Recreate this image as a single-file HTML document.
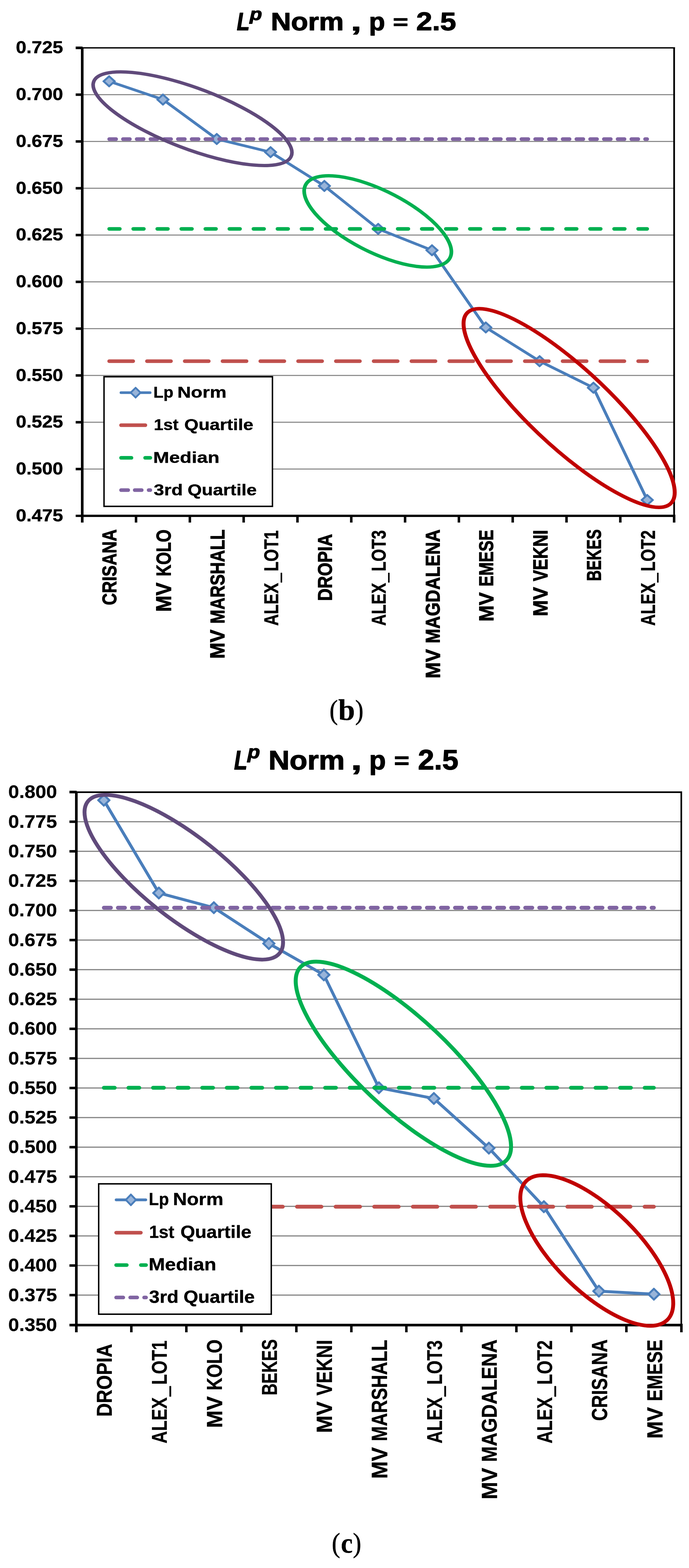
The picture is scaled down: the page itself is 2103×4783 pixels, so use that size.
<!DOCTYPE html>
<html lang="en">
<head>
<meta charset="utf-8">
<title>Lp Norm, p = 2.5</title>
<style>
html,body{margin:0;padding:0;background:#fff;}
body{width:2103px;height:4783px;overflow:hidden;font-family:"Liberation Sans",sans-serif;}
svg{display:block;}
text{white-space:pre;}
</style>
</head>
<body>
<svg width='2103' height='4783' viewBox='0 0 2103 4783'>
<rect width='2103' height='4783' fill='#fff'/>
<g id='chart-b'>
<rect x='251' y='287.15' width='1806.6' height='3.2' fill='#868686'/>
<rect x='251' y='429.9' width='1806.6' height='3.2' fill='#868686'/>
<rect x='251' y='572.65' width='1806.6' height='3.2' fill='#868686'/>
<rect x='251' y='715.4' width='1806.6' height='3.2' fill='#868686'/>
<rect x='251' y='858.15' width='1806.6' height='3.2' fill='#868686'/>
<rect x='251' y='1000.9' width='1806.6' height='3.2' fill='#868686'/>
<rect x='251' y='1143.65' width='1806.6' height='3.2' fill='#868686'/>
<rect x='251' y='1286.4' width='1806.6' height='3.2' fill='#868686'/>
<rect x='251' y='1429.15' width='1806.6' height='3.2' fill='#868686'/>
<rect x='251' y='144' width='1809.2' height='4' fill='#000'/>
<rect x='2055' y='144' width='5.2' height='1427' fill='#000'/>
<polyline transform='scale(1.11 1)' points='300.106,248 448.067,303.7 596.027,424 743.987,464.1 891.948,567.2 1039.908,698.2 1187.868,763.4 1335.829,998.9 1483.789,1101.7 1631.75,1182.7 1779.71,1525.2' fill='none' stroke='#4a7ebb' stroke-width='8.2' stroke-linejoin='round' stroke-linecap='round'/>
<path d='M314.218 248L333.118 231L352.018 248L333.118 265Z' fill='#4a7ebb' stroke='#4a7ebb' stroke-width='3.2' stroke-linejoin='round'/><path d='M320.718 248L333.118 236.8L345.518 248L333.118 259.2Z' fill='#98b4d9'/>
<path d='M478.454 303.7L497.354 286.7L516.254 303.7L497.354 320.7Z' fill='#4a7ebb' stroke='#4a7ebb' stroke-width='3.2' stroke-linejoin='round'/><path d='M484.954 303.7L497.354 292.5L509.754 303.7L497.354 314.9Z' fill='#98b4d9'/>
<path d='M642.69 424L661.59 407L680.49 424L661.59 441Z' fill='#4a7ebb' stroke='#4a7ebb' stroke-width='3.2' stroke-linejoin='round'/><path d='M649.19 424L661.59 412.8L673.99 424L661.59 435.2Z' fill='#98b4d9'/>
<path d='M806.926 464.1L825.826 447.1L844.726 464.1L825.826 481.1Z' fill='#4a7ebb' stroke='#4a7ebb' stroke-width='3.2' stroke-linejoin='round'/><path d='M813.426 464.1L825.826 452.9L838.226 464.1L825.826 475.3Z' fill='#98b4d9'/>
<path d='M971.162 567.2L990.062 550.2L1008.962 567.2L990.062 584.2Z' fill='#4a7ebb' stroke='#4a7ebb' stroke-width='3.2' stroke-linejoin='round'/><path d='M977.662 567.2L990.062 556L1002.462 567.2L990.062 578.4Z' fill='#98b4d9'/>
<path d='M1135.398 698.2L1154.298 681.2L1173.198 698.2L1154.298 715.2Z' fill='#4a7ebb' stroke='#4a7ebb' stroke-width='3.2' stroke-linejoin='round'/><path d='M1141.898 698.2L1154.298 687L1166.698 698.2L1154.298 709.4Z' fill='#98b4d9'/>
<path d='M1299.634 763.4L1318.534 746.4L1337.434 763.4L1318.534 780.4Z' fill='#4a7ebb' stroke='#4a7ebb' stroke-width='3.2' stroke-linejoin='round'/><path d='M1306.134 763.4L1318.534 752.2L1330.934 763.4L1318.534 774.6Z' fill='#98b4d9'/>
<path d='M1463.87 998.9L1482.77 981.9L1501.67 998.9L1482.77 1015.9Z' fill='#4a7ebb' stroke='#4a7ebb' stroke-width='3.2' stroke-linejoin='round'/><path d='M1470.37 998.9L1482.77 987.7L1495.17 998.9L1482.77 1010.1Z' fill='#98b4d9'/>
<path d='M1628.106 1101.7L1647.006 1084.7L1665.906 1101.7L1647.006 1118.7Z' fill='#4a7ebb' stroke='#4a7ebb' stroke-width='3.2' stroke-linejoin='round'/><path d='M1634.606 1101.7L1647.006 1090.5L1659.406 1101.7L1647.006 1112.9Z' fill='#98b4d9'/>
<path d='M1792.342 1182.7L1811.242 1165.7L1830.142 1182.7L1811.242 1199.7Z' fill='#4a7ebb' stroke='#4a7ebb' stroke-width='3.2' stroke-linejoin='round'/><path d='M1798.842 1182.7L1811.242 1171.5L1823.642 1182.7L1811.242 1193.9Z' fill='#98b4d9'/>
<path d='M1956.578 1525.2L1975.478 1508.2L1994.378 1525.2L1975.478 1542.2Z' fill='#4a7ebb' stroke='#4a7ebb' stroke-width='3.2' stroke-linejoin='round'/><path d='M1963.078 1525.2L1975.478 1514L1987.878 1525.2L1975.478 1536.4Z' fill='#98b4d9'/>
<path d='M333.118 1101.7H1975.478' fill='none' stroke='#c0504d' stroke-width='11' stroke-linecap='round' stroke-dasharray='73.5 41.83'/>
<path d='M333.118 698.2H1975.478' fill='none' stroke='#00b050' stroke-width='11' stroke-linecap='round' stroke-dasharray='32.7 40.69'/>
<path d='M333.118 424.3H1975.478' fill='none' stroke='#8064a2' stroke-width='11' stroke-linecap='round' stroke-dasharray='21.5 20.44'/>
<rect x='247' y='146' width='8' height='1448' fill='#000'/>
<rect x='231' y='1570' width='1829.2' height='7' fill='#000'/>
<rect x='231' y='142' width='21' height='8' fill='#000'/>
<rect x='231' y='284.95' width='17' height='7.6' fill='#000'/>
<rect x='231' y='427.7' width='17' height='7.6' fill='#000'/>
<rect x='231' y='570.45' width='17' height='7.6' fill='#000'/>
<rect x='231' y='713.2' width='17' height='7.6' fill='#000'/>
<rect x='231' y='855.95' width='17' height='7.6' fill='#000'/>
<rect x='231' y='998.7' width='17' height='7.6' fill='#000'/>
<rect x='231' y='1141.45' width='17' height='7.6' fill='#000'/>
<rect x='231' y='1284.2' width='17' height='7.6' fill='#000'/>
<rect x='231' y='1426.95' width='17' height='7.6' fill='#000'/>
<rect x='411.436' y='1570' width='7.6' height='24' fill='#000'/>
<rect x='575.673' y='1570' width='7.6' height='24' fill='#000'/>
<rect x='739.909' y='1570' width='7.6' height='24' fill='#000'/>
<rect x='904.145' y='1570' width='7.6' height='24' fill='#000'/>
<rect x='1068.382' y='1570' width='7.6' height='24' fill='#000'/>
<rect x='1232.618' y='1570' width='7.6' height='24' fill='#000'/>
<rect x='1396.855' y='1570' width='7.6' height='24' fill='#000'/>
<rect x='1561.091' y='1570' width='7.6' height='24' fill='#000'/>
<rect x='1725.327' y='1570' width='7.6' height='24' fill='#000'/>
<rect x='1889.564' y='1570' width='7.6' height='24' fill='#000'/>
<rect x='2053.8' y='1570' width='7.6' height='24' fill='#000'/>
<text transform='matrix(0.576 0 0 0.51 48.498 162.39)' font-size='100' font-family="'Liberation Sans', sans-serif" font-weight='bold' fill='#000' stroke='#000' stroke-width='0.8' stroke-linejoin='round' vector-effect='non-scaling-stroke'>0.725</text>
<text transform='matrix(0.576 0 0 0.51 48.498 305.14)' font-size='100' font-family="'Liberation Sans', sans-serif" font-weight='bold' fill='#000' stroke='#000' stroke-width='0.8' stroke-linejoin='round' vector-effect='non-scaling-stroke'>0.700</text>
<text transform='matrix(0.576 0 0 0.51 48.498 447.89)' font-size='100' font-family="'Liberation Sans', sans-serif" font-weight='bold' fill='#000' stroke='#000' stroke-width='0.8' stroke-linejoin='round' vector-effect='non-scaling-stroke'>0.675</text>
<text transform='matrix(0.576 0 0 0.51 48.498 590.64)' font-size='100' font-family="'Liberation Sans', sans-serif" font-weight='bold' fill='#000' stroke='#000' stroke-width='0.8' stroke-linejoin='round' vector-effect='non-scaling-stroke'>0.650</text>
<text transform='matrix(0.576 0 0 0.51 48.498 733.39)' font-size='100' font-family="'Liberation Sans', sans-serif" font-weight='bold' fill='#000' stroke='#000' stroke-width='0.8' stroke-linejoin='round' vector-effect='non-scaling-stroke'>0.625</text>
<text transform='matrix(0.576 0 0 0.51 48.498 876.14)' font-size='100' font-family="'Liberation Sans', sans-serif" font-weight='bold' fill='#000' stroke='#000' stroke-width='0.8' stroke-linejoin='round' vector-effect='non-scaling-stroke'>0.600</text>
<text transform='matrix(0.576 0 0 0.51 48.498 1018.89)' font-size='100' font-family="'Liberation Sans', sans-serif" font-weight='bold' fill='#000' stroke='#000' stroke-width='0.8' stroke-linejoin='round' vector-effect='non-scaling-stroke'>0.575</text>
<text transform='matrix(0.576 0 0 0.51 48.498 1161.64)' font-size='100' font-family="'Liberation Sans', sans-serif" font-weight='bold' fill='#000' stroke='#000' stroke-width='0.8' stroke-linejoin='round' vector-effect='non-scaling-stroke'>0.550</text>
<text transform='matrix(0.576 0 0 0.51 48.498 1304.39)' font-size='100' font-family="'Liberation Sans', sans-serif" font-weight='bold' fill='#000' stroke='#000' stroke-width='0.8' stroke-linejoin='round' vector-effect='non-scaling-stroke'>0.525</text>
<text transform='matrix(0.576 0 0 0.51 48.498 1447.14)' font-size='100' font-family="'Liberation Sans', sans-serif" font-weight='bold' fill='#000' stroke='#000' stroke-width='0.8' stroke-linejoin='round' vector-effect='non-scaling-stroke'>0.500</text>
<text transform='matrix(0.576 0 0 0.51 48.498 1589.89)' font-size='100' font-family="'Liberation Sans', sans-serif" font-weight='bold' fill='#000' stroke='#000' stroke-width='0.8' stroke-linejoin='round' vector-effect='non-scaling-stroke'>0.475</text>
<text transform='matrix(0 -0.508 0.607 0 354.843 1845.885)' font-size='100' font-family="'Liberation Sans', sans-serif" font-weight='bold' fill='#000' stroke='#000' stroke-width='1.5' stroke-linejoin='round' vector-effect='non-scaling-stroke'>CRISANA</text>
<text transform='matrix(0 -0.595 0.65 0 522.05 1866.279)' font-size='100' font-family="'Liberation Sans', sans-serif" font-weight='bold' fill='#000' stroke='#000' stroke-width='1.5' stroke-linejoin='round' vector-effect='non-scaling-stroke'>MV</text>
<text transform='matrix(0 -0.494 0.631 0 521.419 1758.112)' font-size='100' font-family="'Liberation Sans', sans-serif" font-weight='bold' fill='#000' stroke='#000' stroke-width='1.5' stroke-linejoin='round' vector-effect='non-scaling-stroke'>KOLO</text>
<text transform='matrix(0 -0.595 0.624 0 685.25 2009.479)' font-size='100' font-family="'Liberation Sans', sans-serif" font-weight='bold' fill='#000' stroke='#000' stroke-width='1.5' stroke-linejoin='round' vector-effect='non-scaling-stroke'>MV</text>
<text transform='matrix(0 -0.512 0.606 0 684.644 1902.429)' font-size='100' font-family="'Liberation Sans', sans-serif" font-weight='bold' fill='#000' stroke='#000' stroke-width='1.5' stroke-linejoin='round' vector-effect='non-scaling-stroke'>MARSHALL</text>
<text transform='matrix(0 -0.49 0.616 0 848.934 1906.9)' font-size='100' font-family="'Liberation Sans', sans-serif" font-weight='bold' fill='#000' stroke='#000' stroke-width='1.5' stroke-linejoin='round' vector-effect='non-scaling-stroke'><tspan x='-3.943'>ALEX</tspan><tspan x='267.699' dy='6.045' stroke-width='3.86'>_</tspan><tspan x='334.615' dy='-6.045'>LOT1</tspan></text>
<text transform='matrix(0 -0.525 0.607 0 1012.943 1832.913)' font-size='100' font-family="'Liberation Sans', sans-serif" font-weight='bold' fill='#000' stroke='#000' stroke-width='1.5' stroke-linejoin='round' vector-effect='non-scaling-stroke'>DROPIA</text>
<text transform='matrix(0 -0.491 0.614 0 1177.313 1906.9)' font-size='100' font-family="'Liberation Sans', sans-serif" font-weight='bold' fill='#000' stroke='#000' stroke-width='1.5' stroke-linejoin='round' vector-effect='non-scaling-stroke'><tspan x='-4.147'>ALEX</tspan><tspan x='267.235' dy='6.289' stroke-width='3.866'>_</tspan><tspan x='334.286' dy='-6.289'>LOT3</tspan></text>
<text transform='matrix(0 -0.595 0.634 0 1342.85 2069.379)' font-size='100' font-family="'Liberation Sans', sans-serif" font-weight='bold' fill='#000' stroke='#000' stroke-width='1.5' stroke-linejoin='round' vector-effect='non-scaling-stroke'>MV</text>
<text transform='matrix(0 -0.535 0.616 0 1342.234 1962.483)' font-size='100' font-family="'Liberation Sans', sans-serif" font-weight='bold' fill='#000' stroke='#000' stroke-width='1.5' stroke-linejoin='round' vector-effect='non-scaling-stroke'>MAGDALENA</text>
<text transform='matrix(0 -0.595 0.622 0 1506.05 1895.979)' font-size='100' font-family="'Liberation Sans', sans-serif" font-weight='bold' fill='#000' stroke='#000' stroke-width='1.5' stroke-linejoin='round' vector-effect='non-scaling-stroke'>MV</text>
<text transform='matrix(0 -0.494 0.605 0 1505.445 1789.011)' font-size='100' font-family="'Liberation Sans', sans-serif" font-weight='bold' fill='#000' stroke='#000' stroke-width='1.5' stroke-linejoin='round' vector-effect='non-scaling-stroke'>EMESE</text>
<text transform='matrix(0 -0.595 0.624 0 1670.65 1879.879)' font-size='100' font-family="'Liberation Sans', sans-serif" font-weight='bold' fill='#000' stroke='#000' stroke-width='1.5' stroke-linejoin='round' vector-effect='non-scaling-stroke'>MV</text>
<text transform='matrix(0 -0.512 0.624 0 1670.65 1773.06)' font-size='100' font-family="'Liberation Sans', sans-serif" font-weight='bold' fill='#000' stroke='#000' stroke-width='1.5' stroke-linejoin='round' vector-effect='non-scaling-stroke'>VEKNI</text>
<text transform='matrix(0 -0.458 0.607 0 1834.143 1772.573)' font-size='100' font-family="'Liberation Sans', sans-serif" font-weight='bold' fill='#000' stroke='#000' stroke-width='1.5' stroke-linejoin='round' vector-effect='non-scaling-stroke'>BEKES</text>
<text transform='matrix(0 -0.491 0.616 0 1998.634 1906.9)' font-size='100' font-family="'Liberation Sans', sans-serif" font-weight='bold' fill='#000' stroke='#000' stroke-width='1.5' stroke-linejoin='round' vector-effect='non-scaling-stroke'><tspan x='-4.25'>ALEX</tspan><tspan x='267.003' dy='6.045' stroke-width='3.86'>_</tspan><tspan x='334.121' dy='-6.045'>LOT2</tspan></text>
<rect x='317.5' y='1149.2' width='514.1' height='395.4' fill='#fff' stroke='#000' stroke-width='4.4'/>
<path d='M369.1 1197.7H458.4' stroke='#4a7ebb' stroke-width='8' stroke-linecap='round' fill='none'/>
<path d='M397.2 1197.7L413.9 1181.4L430.6 1197.7L413.9 1214Z' fill='#4a7ebb' stroke='#4a7ebb' stroke-width='3.2' stroke-linejoin='round'/><path d='M402.7 1197.7L413.9 1186.8L425.1 1197.7L413.9 1208.6Z' fill='#98b4d9'/>
<text transform='matrix(0.5 0 0 0.487 468.15 1213.25)' font-size='100' font-family="'Liberation Sans', sans-serif" font-weight='bold' fill='#000' stroke='#000' stroke-width='0.7' stroke-linejoin='round' vector-effect='non-scaling-stroke'>Lp</text>
<text transform='matrix(0.576 0 0 0.487 541.148 1213.25)' font-size='100' font-family="'Liberation Sans', sans-serif" font-weight='bold' fill='#000' stroke='#000' stroke-width='0.7' stroke-linejoin='round' vector-effect='non-scaling-stroke'>Norm</text>
<path d='M369.4 1297H443.8' stroke='#c0504d' stroke-width='11' stroke-linecap='round' fill='none'/>
<text transform='matrix(0.523 0 0 0.487 469.41 1312.45)' font-size='100' font-family="'Liberation Sans', sans-serif" font-weight='bold' fill='#000' stroke='#000' stroke-width='0.7' stroke-linejoin='round' vector-effect='non-scaling-stroke'>1st</text>
<text transform='matrix(0.558 0 0 0.487 562.506 1312.45)' font-size='100' font-family="'Liberation Sans', sans-serif" font-weight='bold' fill='#000' stroke='#000' stroke-width='0.7' stroke-linejoin='round' vector-effect='non-scaling-stroke'>Quartile</text>
<path d='M369.4 1396.5H401.3' stroke='#00b050' stroke-width='11' stroke-linecap='round' fill='none'/>
<path d='M442.9 1396.5H458.9' stroke='#00b050' stroke-width='11' stroke-linecap='round' fill='none'/>
<text transform='matrix(0.587 0 0 0.487 467.573 1411.65)' font-size='100' font-family="'Liberation Sans', sans-serif" font-weight='bold' fill='#000' stroke='#000' stroke-width='0.7' stroke-linejoin='round' vector-effect='non-scaling-stroke'>Median</text>
<path d='M369.4 1495H391.4' stroke='#8064a2' stroke-width='11' stroke-linecap='round' fill='none'/>
<path d='M411.1 1495H432.7' stroke='#8064a2' stroke-width='11' stroke-linecap='round' fill='none'/>
<path d='M453.6 1495H458.9' stroke='#8064a2' stroke-width='11' stroke-linecap='round' fill='none'/>
<text transform='matrix(0.57 0 0 0.487 469.283 1510.85)' font-size='100' font-family="'Liberation Sans', sans-serif" font-weight='bold' fill='#000' stroke='#000' stroke-width='0.7' stroke-linejoin='round' vector-effect='non-scaling-stroke'>3rd</text>
<text transform='matrix(0.559 0 0 0.487 572.402 1510.85)' font-size='100' font-family="'Liberation Sans', sans-serif" font-weight='bold' fill='#000' stroke='#000' stroke-width='0.7' stroke-linejoin='round' vector-effect='non-scaling-stroke'>Quartile</text>
<ellipse cx='529.414' cy='362.15' rx='294.445' ry='91.757' transform='scale(1.11 1) rotate(23.037 529.414 362.15)' fill='none' stroke='#604a7b' stroke-width='10'/>
<ellipse cx='1038.784' cy='675.45' rx='227.697' ry='92.3' transform='scale(1.11 1) rotate(30.06 1038.784 675.45)' fill='none' stroke='#00b050' stroke-width='10.2'/>
<ellipse cx='1565' cy='1244.65' rx='403.554' ry='114.93' transform='scale(1.11 1) rotate(46.435 1565 1244.65)' fill='none' stroke='#c00000' stroke-width='10.8'/>
<text transform='matrix(0.644 0 0 0.757 722.74 92)' font-size='100' font-family="'Liberation Sans', sans-serif" font-weight='bold' font-style='italic' fill='#000' stroke='#000' stroke-width='2' stroke-linejoin='round' vector-effect='non-scaling-stroke'>L</text>
<text transform='matrix(0.615 0 0 0.531 762.353 61.459)' font-size='100' font-family="'Liberation Sans', sans-serif" font-weight='bold' font-style='italic' fill='#000' stroke='#000' stroke-width='2' stroke-linejoin='round' vector-effect='non-scaling-stroke'>p</text>
<text transform='matrix(0.853 0 0 0.757 826.667 92)' font-size='100' font-family="'Liberation Sans', sans-serif" font-weight='bold' fill='#000' stroke='#000' stroke-width='2' stroke-linejoin='round' vector-effect='non-scaling-stroke'>Norm</text>
<text transform='matrix(1.204 0 0 0.752 1070.311 92.725)' font-size='100' font-family="'Liberation Sans', sans-serif" font-weight='bold' fill='#000' stroke='#000' stroke-width='2' stroke-linejoin='round' vector-effect='non-scaling-stroke'>,</text>
<text transform='matrix(0.802 0 0 0.753 1126.21 92.244)' font-size='100' font-family="'Liberation Sans', sans-serif" font-weight='bold' fill='#000' stroke='#000' stroke-width='2' stroke-linejoin='round' vector-effect='non-scaling-stroke'>p</text>
<text transform='matrix(0.794 0 0 0.619 1199.465 88.39)' font-size='100' font-family="'Liberation Sans', sans-serif" font-weight='bold' fill='#000' stroke='#000' stroke-width='2' stroke-linejoin='round' vector-effect='non-scaling-stroke'>=</text>
<text transform='matrix(0.876 0 0 0.784 1270.422 92.216)' font-size='100' font-family="'Liberation Sans', sans-serif" font-weight='bold' fill='#000' stroke='#000' stroke-width='2' stroke-linejoin='round' vector-effect='non-scaling-stroke'>2.5</text>
</g>
<g id='chart-c'>
<rect x='233' y='2504.75' width='1846.8' height='3.6' fill='#868686'/>
<rect x='233' y='2595' width='1846.8' height='3.6' fill='#868686'/>
<rect x='233' y='2685.25' width='1846.8' height='3.6' fill='#868686'/>
<rect x='233' y='2775.5' width='1846.8' height='3.6' fill='#868686'/>
<rect x='233' y='2865.75' width='1846.8' height='3.6' fill='#868686'/>
<rect x='233' y='2956' width='1846.8' height='3.6' fill='#868686'/>
<rect x='233' y='3046.25' width='1846.8' height='3.6' fill='#868686'/>
<rect x='233' y='3136.5' width='1846.8' height='3.6' fill='#868686'/>
<rect x='233' y='3226.75' width='1846.8' height='3.6' fill='#868686'/>
<rect x='233' y='3317' width='1846.8' height='3.6' fill='#868686'/>
<rect x='233' y='3407.25' width='1846.8' height='3.6' fill='#868686'/>
<rect x='233' y='3497.5' width='1846.8' height='3.6' fill='#868686'/>
<rect x='233' y='3587.75' width='1846.8' height='3.6' fill='#868686'/>
<rect x='233' y='3678' width='1846.8' height='3.6' fill='#868686'/>
<rect x='233' y='3768.25' width='1846.8' height='3.6' fill='#868686'/>
<rect x='233' y='3858.5' width='1846.8' height='3.6' fill='#868686'/>
<rect x='233' y='3948.75' width='1846.8' height='3.6' fill='#868686'/>
<rect x='233' y='2414' width='1849' height='5' fill='#000'/>
<rect x='2077' y='2414' width='5' height='1625' fill='#000'/>
<polyline transform='scale(1.03 1)' points='307.714,2441 470.714,2724 633.714,2768.8 796.714,2878.1 959.714,2973.7 1122.714,3318.1 1285.714,3350.8 1448.714,3502.2 1611.714,3680.9 1774.714,3938.5 1937.714,3947.8' fill='none' stroke='#4a7ebb' stroke-width='8.9' stroke-linejoin='round' stroke-linecap='round'/>
<path d='M297.945 2441L316.945 2422.6L335.945 2441L316.945 2459.4Z' fill='#4a7ebb' stroke='#4a7ebb' stroke-width='3.2' stroke-linejoin='round'/><path d='M304.545 2441L316.945 2428.7L329.345 2441L316.945 2453.3Z' fill='#98b4d9'/>
<path d='M465.835 2724L484.835 2705.6L503.835 2724L484.835 2742.4Z' fill='#4a7ebb' stroke='#4a7ebb' stroke-width='3.2' stroke-linejoin='round'/><path d='M472.435 2724L484.835 2711.7L497.235 2724L484.835 2736.3Z' fill='#98b4d9'/>
<path d='M633.725 2768.8L652.725 2750.4L671.725 2768.8L652.725 2787.2Z' fill='#4a7ebb' stroke='#4a7ebb' stroke-width='3.2' stroke-linejoin='round'/><path d='M640.325 2768.8L652.725 2756.5L665.125 2768.8L652.725 2781.1Z' fill='#98b4d9'/>
<path d='M801.615 2878.1L820.615 2859.7L839.615 2878.1L820.615 2896.5Z' fill='#4a7ebb' stroke='#4a7ebb' stroke-width='3.2' stroke-linejoin='round'/><path d='M808.215 2878.1L820.615 2865.8L833.015 2878.1L820.615 2890.4Z' fill='#98b4d9'/>
<path d='M969.505 2973.7L988.505 2955.3L1007.505 2973.7L988.505 2992.1Z' fill='#4a7ebb' stroke='#4a7ebb' stroke-width='3.2' stroke-linejoin='round'/><path d='M976.105 2973.7L988.505 2961.4L1000.905 2973.7L988.505 2986Z' fill='#98b4d9'/>
<path d='M1137.395 3318.1L1156.395 3299.7L1175.395 3318.1L1156.395 3336.5Z' fill='#4a7ebb' stroke='#4a7ebb' stroke-width='3.2' stroke-linejoin='round'/><path d='M1143.995 3318.1L1156.395 3305.8L1168.795 3318.1L1156.395 3330.4Z' fill='#98b4d9'/>
<path d='M1305.285 3350.8L1324.285 3332.4L1343.285 3350.8L1324.285 3369.2Z' fill='#4a7ebb' stroke='#4a7ebb' stroke-width='3.2' stroke-linejoin='round'/><path d='M1311.885 3350.8L1324.285 3338.5L1336.685 3350.8L1324.285 3363.1Z' fill='#98b4d9'/>
<path d='M1473.175 3502.2L1492.175 3483.8L1511.175 3502.2L1492.175 3520.6Z' fill='#4a7ebb' stroke='#4a7ebb' stroke-width='3.2' stroke-linejoin='round'/><path d='M1479.775 3502.2L1492.175 3489.9L1504.575 3502.2L1492.175 3514.5Z' fill='#98b4d9'/>
<path d='M1641.065 3680.9L1660.065 3662.5L1679.065 3680.9L1660.065 3699.3Z' fill='#4a7ebb' stroke='#4a7ebb' stroke-width='3.2' stroke-linejoin='round'/><path d='M1647.665 3680.9L1660.065 3668.6L1672.465 3680.9L1660.065 3693.2Z' fill='#98b4d9'/>
<path d='M1808.955 3938.5L1827.955 3920.1L1846.955 3938.5L1827.955 3956.9Z' fill='#4a7ebb' stroke='#4a7ebb' stroke-width='3.2' stroke-linejoin='round'/><path d='M1815.555 3938.5L1827.955 3926.2L1840.355 3938.5L1827.955 3950.8Z' fill='#98b4d9'/>
<path d='M1976.845 3947.8L1995.845 3929.4L2014.845 3947.8L1995.845 3966.2Z' fill='#4a7ebb' stroke='#4a7ebb' stroke-width='3.2' stroke-linejoin='round'/><path d='M1983.445 3947.8L1995.845 3935.5L2008.245 3947.8L1995.845 3960.1Z' fill='#98b4d9'/>
<path d='M316.945 3680.9H1995.845' fill='none' stroke='#c0504d' stroke-width='11.8' stroke-linecap='round' stroke-dasharray='74.6 43.3'/>
<path d='M316.945 3318.1H1995.845' fill='none' stroke='#00b050' stroke-width='11.8' stroke-linecap='round' stroke-dasharray='33.3 41.73'/>
<path d='M316.945 2769H1995.845' fill='none' stroke='#8064a2' stroke-width='11.8' stroke-linecap='round' stroke-dasharray='21.6 21.27'/>
<rect x='229' y='2416' width='8' height='1648' fill='#000'/>
<rect x='212' y='4038' width='1870' height='8' fill='#000'/>
<rect x='212' y='2412' width='22' height='8' fill='#000'/>
<rect x='212' y='2502.75' width='18' height='7.6' fill='#000'/>
<rect x='212' y='2593' width='18' height='7.6' fill='#000'/>
<rect x='212' y='2683.25' width='18' height='7.6' fill='#000'/>
<rect x='212' y='2773.5' width='18' height='7.6' fill='#000'/>
<rect x='212' y='2863.75' width='18' height='7.6' fill='#000'/>
<rect x='212' y='2954' width='18' height='7.6' fill='#000'/>
<rect x='212' y='3044.25' width='18' height='7.6' fill='#000'/>
<rect x='212' y='3134.5' width='18' height='7.6' fill='#000'/>
<rect x='212' y='3224.75' width='18' height='7.6' fill='#000'/>
<rect x='212' y='3315' width='18' height='7.6' fill='#000'/>
<rect x='212' y='3405.25' width='18' height='7.6' fill='#000'/>
<rect x='212' y='3495.5' width='18' height='7.6' fill='#000'/>
<rect x='212' y='3585.75' width='18' height='7.6' fill='#000'/>
<rect x='212' y='3676' width='18' height='7.6' fill='#000'/>
<rect x='212' y='3766.25' width='18' height='7.6' fill='#000'/>
<rect x='212' y='3856.5' width='18' height='7.6' fill='#000'/>
<rect x='212' y='3946.75' width='18' height='7.6' fill='#000'/>
<rect x='397.091' y='4038' width='7.6' height='26' fill='#000'/>
<rect x='564.982' y='4038' width='7.6' height='26' fill='#000'/>
<rect x='732.873' y='4038' width='7.6' height='26' fill='#000'/>
<rect x='900.764' y='4038' width='7.6' height='26' fill='#000'/>
<rect x='1068.655' y='4038' width='7.6' height='26' fill='#000'/>
<rect x='1236.545' y='4038' width='7.6' height='26' fill='#000'/>
<rect x='1404.436' y='4038' width='7.6' height='26' fill='#000'/>
<rect x='1572.327' y='4038' width='7.6' height='26' fill='#000'/>
<rect x='1740.218' y='4038' width='7.6' height='26' fill='#000'/>
<rect x='1908.109' y='4038' width='7.6' height='26' fill='#000'/>
<rect x='2076' y='4038' width='7.6' height='26' fill='#000'/>
<text transform='matrix(0.595 0 0 0.562 25.318 2434.338)' font-size='100' font-family="'Liberation Sans', sans-serif" font-weight='bold' fill='#000' stroke='#000' stroke-width='0.4' stroke-linejoin='round' vector-effect='non-scaling-stroke'>0.800</text>
<text transform='matrix(0.595 0 0 0.562 25.318 2524.588)' font-size='100' font-family="'Liberation Sans', sans-serif" font-weight='bold' fill='#000' stroke='#000' stroke-width='0.4' stroke-linejoin='round' vector-effect='non-scaling-stroke'>0.775</text>
<text transform='matrix(0.595 0 0 0.562 25.318 2614.838)' font-size='100' font-family="'Liberation Sans', sans-serif" font-weight='bold' fill='#000' stroke='#000' stroke-width='0.4' stroke-linejoin='round' vector-effect='non-scaling-stroke'>0.750</text>
<text transform='matrix(0.595 0 0 0.562 25.318 2705.088)' font-size='100' font-family="'Liberation Sans', sans-serif" font-weight='bold' fill='#000' stroke='#000' stroke-width='0.4' stroke-linejoin='round' vector-effect='non-scaling-stroke'>0.725</text>
<text transform='matrix(0.595 0 0 0.562 25.318 2795.338)' font-size='100' font-family="'Liberation Sans', sans-serif" font-weight='bold' fill='#000' stroke='#000' stroke-width='0.4' stroke-linejoin='round' vector-effect='non-scaling-stroke'>0.700</text>
<text transform='matrix(0.595 0 0 0.562 25.318 2885.588)' font-size='100' font-family="'Liberation Sans', sans-serif" font-weight='bold' fill='#000' stroke='#000' stroke-width='0.4' stroke-linejoin='round' vector-effect='non-scaling-stroke'>0.675</text>
<text transform='matrix(0.595 0 0 0.562 25.318 2975.838)' font-size='100' font-family="'Liberation Sans', sans-serif" font-weight='bold' fill='#000' stroke='#000' stroke-width='0.4' stroke-linejoin='round' vector-effect='non-scaling-stroke'>0.650</text>
<text transform='matrix(0.595 0 0 0.562 25.318 3066.088)' font-size='100' font-family="'Liberation Sans', sans-serif" font-weight='bold' fill='#000' stroke='#000' stroke-width='0.4' stroke-linejoin='round' vector-effect='non-scaling-stroke'>0.625</text>
<text transform='matrix(0.595 0 0 0.562 25.318 3156.338)' font-size='100' font-family="'Liberation Sans', sans-serif" font-weight='bold' fill='#000' stroke='#000' stroke-width='0.4' stroke-linejoin='round' vector-effect='non-scaling-stroke'>0.600</text>
<text transform='matrix(0.595 0 0 0.562 25.318 3246.588)' font-size='100' font-family="'Liberation Sans', sans-serif" font-weight='bold' fill='#000' stroke='#000' stroke-width='0.4' stroke-linejoin='round' vector-effect='non-scaling-stroke'>0.575</text>
<text transform='matrix(0.595 0 0 0.562 25.318 3336.838)' font-size='100' font-family="'Liberation Sans', sans-serif" font-weight='bold' fill='#000' stroke='#000' stroke-width='0.4' stroke-linejoin='round' vector-effect='non-scaling-stroke'>0.550</text>
<text transform='matrix(0.595 0 0 0.562 25.318 3427.088)' font-size='100' font-family="'Liberation Sans', sans-serif" font-weight='bold' fill='#000' stroke='#000' stroke-width='0.4' stroke-linejoin='round' vector-effect='non-scaling-stroke'>0.525</text>
<text transform='matrix(0.595 0 0 0.562 25.318 3517.338)' font-size='100' font-family="'Liberation Sans', sans-serif" font-weight='bold' fill='#000' stroke='#000' stroke-width='0.4' stroke-linejoin='round' vector-effect='non-scaling-stroke'>0.500</text>
<text transform='matrix(0.595 0 0 0.562 25.318 3607.588)' font-size='100' font-family="'Liberation Sans', sans-serif" font-weight='bold' fill='#000' stroke='#000' stroke-width='0.4' stroke-linejoin='round' vector-effect='non-scaling-stroke'>0.475</text>
<text transform='matrix(0.595 0 0 0.562 25.318 3697.838)' font-size='100' font-family="'Liberation Sans', sans-serif" font-weight='bold' fill='#000' stroke='#000' stroke-width='0.4' stroke-linejoin='round' vector-effect='non-scaling-stroke'>0.450</text>
<text transform='matrix(0.595 0 0 0.562 25.318 3788.088)' font-size='100' font-family="'Liberation Sans', sans-serif" font-weight='bold' fill='#000' stroke='#000' stroke-width='0.4' stroke-linejoin='round' vector-effect='non-scaling-stroke'>0.425</text>
<text transform='matrix(0.595 0 0 0.562 25.318 3878.338)' font-size='100' font-family="'Liberation Sans', sans-serif" font-weight='bold' fill='#000' stroke='#000' stroke-width='0.4' stroke-linejoin='round' vector-effect='non-scaling-stroke'>0.400</text>
<text transform='matrix(0.595 0 0 0.562 25.318 3968.588)' font-size='100' font-family="'Liberation Sans', sans-serif" font-weight='bold' fill='#000' stroke='#000' stroke-width='0.4' stroke-linejoin='round' vector-effect='non-scaling-stroke'>0.375</text>
<text transform='matrix(0.595 0 0 0.562 25.318 4060.338)' font-size='100' font-family="'Liberation Sans', sans-serif" font-weight='bold' fill='#000' stroke='#000' stroke-width='0.4' stroke-linejoin='round' vector-effect='non-scaling-stroke'>0.350</text>
<text transform='matrix(0 -0.571 0.653 0 341.297 4321.417)' font-size='100' font-family="'Liberation Sans', sans-serif" font-weight='bold' fill='#000' stroke='#000' stroke-width='0.7' stroke-linejoin='round' vector-effect='non-scaling-stroke'>DROPIA</text>
<text transform='matrix(0 -0.529 0.647 0 509.303 4401)' font-size='100' font-family="'Liberation Sans', sans-serif" font-weight='bold' fill='#000' stroke='#000' stroke-width='0.7' stroke-linejoin='round' vector-effect='non-scaling-stroke'><tspan x='-4.11'>ALEX</tspan><tspan x='268.852' dy='5.386' stroke-width='4.642'>_</tspan><tspan x='334.825' dy='-5.386'>LOT1</tspan></text>
<text transform='matrix(0 -0.644 0.673 0 677.55 4355.702)' font-size='100' font-family="'Liberation Sans', sans-serif" font-weight='bold' fill='#000' stroke='#000' stroke-width='0.7' stroke-linejoin='round' vector-effect='non-scaling-stroke'>MV</text>
<text transform='matrix(0 -0.538 0.654 0 676.896 4241.302)' font-size='100' font-family="'Liberation Sans', sans-serif" font-weight='bold' fill='#000' stroke='#000' stroke-width='0.7' stroke-linejoin='round' vector-effect='non-scaling-stroke'>KOLO</text>
<text transform='matrix(0 -0.497 0.653 0 844.897 4256.328)' font-size='100' font-family="'Liberation Sans', sans-serif" font-weight='bold' fill='#000' stroke='#000' stroke-width='0.7' stroke-linejoin='round' vector-effect='non-scaling-stroke'>BEKES</text>
<text transform='matrix(0 -0.644 0.673 0 1013.35 4371.302)' font-size='100' font-family="'Liberation Sans', sans-serif" font-weight='bold' fill='#000' stroke='#000' stroke-width='0.7' stroke-linejoin='round' vector-effect='non-scaling-stroke'>MV</text>
<text transform='matrix(0 -0.555 0.673 0 1013.35 4256.794)' font-size='100' font-family="'Liberation Sans', sans-serif" font-weight='bold' fill='#000' stroke='#000' stroke-width='0.7' stroke-linejoin='round' vector-effect='non-scaling-stroke'>VEKNI</text>
<text transform='matrix(0 -0.644 0.68 0 1181.95 4510.902)' font-size='100' font-family="'Liberation Sans', sans-serif" font-weight='bold' fill='#000' stroke='#000' stroke-width='0.7' stroke-linejoin='round' vector-effect='non-scaling-stroke'>MV</text>
<text transform='matrix(0 -0.552 0.661 0 1181.289 4396.292)' font-size='100' font-family="'Liberation Sans', sans-serif" font-weight='bold' fill='#000' stroke='#000' stroke-width='0.7' stroke-linejoin='round' vector-effect='non-scaling-stroke'>MARSHALL</text>
<text transform='matrix(0 -0.53 0.645 0 1348.676 4401)' font-size='100' font-family="'Liberation Sans', sans-serif" font-weight='bold' fill='#000' stroke='#000' stroke-width='0.7' stroke-linejoin='round' vector-effect='non-scaling-stroke'><tspan x='-4.315'>ALEX</tspan><tspan x='268.386' dy='5.627' stroke-width='4.649'>_</tspan><tspan x='334.496' dy='-5.627'>LOT3</tspan></text>
<text transform='matrix(0 -0.644 0.673 0 1517.15 4573.802)' font-size='100' font-family="'Liberation Sans', sans-serif" font-weight='bold' fill='#000' stroke='#000' stroke-width='0.7' stroke-linejoin='round' vector-effect='non-scaling-stroke'>MV</text>
<text transform='matrix(0 -0.575 0.654 0 1516.496 4459.443)' font-size='100' font-family="'Liberation Sans', sans-serif" font-weight='bold' fill='#000' stroke='#000' stroke-width='0.7' stroke-linejoin='round' vector-effect='non-scaling-stroke'>MAGDALENA</text>
<text transform='matrix(0 -0.53 0.647 0 1684.603 4401)' font-size='100' font-family="'Liberation Sans', sans-serif" font-weight='bold' fill='#000' stroke='#000' stroke-width='0.7' stroke-linejoin='round' vector-effect='non-scaling-stroke'><tspan x='-4.417'>ALEX</tspan><tspan x='268.153' dy='5.386' stroke-width='4.642'>_</tspan><tspan x='334.331' dy='-5.386'>LOT2</tspan></text>
<text transform='matrix(0 -0.546 0.671 0 1852.979 4334.145)' font-size='100' font-family="'Liberation Sans', sans-serif" font-weight='bold' fill='#000' stroke='#000' stroke-width='0.7' stroke-linejoin='round' vector-effect='non-scaling-stroke'>CRISANA</text>
<text transform='matrix(0 -0.644 0.67 0 2021.85 4388.602)' font-size='100' font-family="'Liberation Sans', sans-serif" font-weight='bold' fill='#000' stroke='#000' stroke-width='0.7' stroke-linejoin='round' vector-effect='non-scaling-stroke'>MV</text>
<text transform='matrix(0 -0.536 0.651 0 2021.199 4273.985)' font-size='100' font-family="'Liberation Sans', sans-serif" font-weight='bold' fill='#000' stroke='#000' stroke-width='0.7' stroke-linejoin='round' vector-effect='non-scaling-stroke'>EMESE</text>
<rect x='301.2' y='3611.2' width='526.8' height='397.6' fill='#fff' stroke='#000' stroke-width='4.4'/>
<path d='M354.4 3660H445.1' stroke='#4a7ebb' stroke-width='8.4' stroke-linecap='round' fill='none'/>
<path d='M382.2 3660L399.5 3642.1L416.8 3660L399.5 3677.9Z' fill='#4a7ebb' stroke='#4a7ebb' stroke-width='3.2' stroke-linejoin='round'/><path d='M387.9 3660L399.5 3648L411.1 3660L399.5 3672Z' fill='#98b4d9'/>
<text transform='matrix(0.5 0 0 0.531 454.35 3676.45)' font-size='100' font-family="'Liberation Sans', sans-serif" font-weight='bold' fill='#000' stroke='#000' stroke-width='0.7' stroke-linejoin='round' vector-effect='non-scaling-stroke'>Lp</text>
<text transform='matrix(0.589 0 0 0.531 528.063 3676.45)' font-size='100' font-family="'Liberation Sans', sans-serif" font-weight='bold' fill='#000' stroke='#000' stroke-width='0.7' stroke-linejoin='round' vector-effect='non-scaling-stroke'>Norm</text>
<path d='M354.4 3760.2H430' stroke='#c0504d' stroke-width='11' stroke-linecap='round' fill='none'/>
<text transform='matrix(0.531 0 0 0.531 455.155 3775.75)' font-size='100' font-family="'Liberation Sans', sans-serif" font-weight='bold' fill='#000' stroke='#000' stroke-width='0.7' stroke-linejoin='round' vector-effect='non-scaling-stroke'>1st</text>
<text transform='matrix(0.574 0 0 0.531 550.639 3775.75)' font-size='100' font-family="'Liberation Sans', sans-serif" font-weight='bold' fill='#000' stroke='#000' stroke-width='0.7' stroke-linejoin='round' vector-effect='non-scaling-stroke'>Quartile</text>
<path d='M354.4 3858.9H387.1' stroke='#00b050' stroke-width='11' stroke-linecap='round' fill='none'/>
<path d='M429.9 3858.9H445.9' stroke='#00b050' stroke-width='11' stroke-linecap='round' fill='none'/>
<text transform='matrix(0.599 0 0 0.531 453.695 3875.05)' font-size='100' font-family="'Liberation Sans', sans-serif" font-weight='bold' fill='#000' stroke='#000' stroke-width='0.7' stroke-linejoin='round' vector-effect='non-scaling-stroke'>Median</text>
<path d='M354.4 3957.8H376.4' stroke='#8064a2' stroke-width='11' stroke-linecap='round' fill='none'/>
<path d='M397.3 3957.8H418.9' stroke='#8064a2' stroke-width='11' stroke-linecap='round' fill='none'/>
<path d='M439.8 3957.8H445.9' stroke='#8064a2' stroke-width='11' stroke-linecap='round' fill='none'/>
<text transform='matrix(0.578 0 0 0.531 455.063 3974.25)' font-size='100' font-family="'Liberation Sans', sans-serif" font-weight='bold' fill='#000' stroke='#000' stroke-width='0.7' stroke-linejoin='round' vector-effect='non-scaling-stroke'>3rd</text>
<text transform='matrix(0.575 0 0 0.531 560.133 3974.25)' font-size='100' font-family="'Liberation Sans', sans-serif" font-weight='bold' fill='#000' stroke='#000' stroke-width='0.7' stroke-linejoin='round' vector-effect='non-scaling-stroke'>Quartile</text>
<ellipse cx='544.66' cy='2675.9' rx='366.52' ry='123.755' transform='scale(1.03 1) rotate(39.331 544.66 2675.9)' fill='none' stroke='#604a7b' stroke-width='11.5'/>
<ellipse cx='1195.34' cy='3244.75' rx='424.122' ry='137.532' transform='scale(1.03 1) rotate(44.147 1195.34 3244.75)' fill='none' stroke='#00b050' stroke-width='11.8'/>
<ellipse cx='1768.447' cy='3814.45' rx='297.568' ry='124.899' transform='scale(1.03 1) rotate(45.577 1768.447 3814.45)' fill='none' stroke='#c00000' stroke-width='11.5'/>
<text transform='matrix(0.665 0 0 0.823 714.603 2346.6)' font-size='100' font-family="'Liberation Sans', sans-serif" font-weight='bold' font-style='italic' fill='#000' stroke='#000' stroke-width='2' stroke-linejoin='round' vector-effect='non-scaling-stroke'>L</text>
<text transform='matrix(0.625 0 0 0.579 755.375 2313.355)' font-size='100' font-family="'Liberation Sans', sans-serif" font-weight='bold' font-style='italic' fill='#000' stroke='#000' stroke-width='2' stroke-linejoin='round' vector-effect='non-scaling-stroke'>p</text>
<text transform='matrix(0.892 0 0 0.823 819.415 2346.6)' font-size='100' font-family="'Liberation Sans', sans-serif" font-weight='bold' fill='#000' stroke='#000' stroke-width='2' stroke-linejoin='round' vector-effect='non-scaling-stroke'>Norm</text>
<text transform='matrix(1.232 0 0 0.871 1070.82 2347.989)' font-size='100' font-family="'Liberation Sans', sans-serif" font-weight='bold' fill='#000' stroke='#000' stroke-width='2' stroke-linejoin='round' vector-effect='non-scaling-stroke'>,</text>
<text transform='matrix(0.835 0 0 0.818 1126.687 2346.882)' font-size='100' font-family="'Liberation Sans', sans-serif" font-weight='bold' fill='#000' stroke='#000' stroke-width='2' stroke-linejoin='round' vector-effect='non-scaling-stroke'>p</text>
<text transform='matrix(0.794 0 0 0.646 1202.965 2342.266)' font-size='100' font-family="'Liberation Sans', sans-serif" font-weight='bold' fill='#000' stroke='#000' stroke-width='2' stroke-linejoin='round' vector-effect='non-scaling-stroke'>=</text>
<text transform='matrix(0.889 0 0 0.855 1275.676 2347.145)' font-size='100' font-family="'Liberation Sans', sans-serif" font-weight='bold' fill='#000' stroke='#000' stroke-width='2' stroke-linejoin='round' vector-effect='non-scaling-stroke'>2.5</text>
</g>
<g id='captions'>
<text transform='matrix(0.766 0 0 0.842 1005.731 2194.046)' font-size='100' font-family="'Liberation Serif', serif"  fill='#000' stroke='#000' stroke-width='1' stroke-linejoin='round' vector-effect='non-scaling-stroke'>(</text>
<text transform='matrix(0.917 0 0 0.901 1032.4 2195.799)' font-size='100' font-family="'Liberation Serif', serif" font-weight='bold' fill='#000' stroke='#000' stroke-width='0.6' stroke-linejoin='round' vector-effect='non-scaling-stroke'>b</text>
<text transform='matrix(0.752 0 0 0.842 1084.194 2194.046)' font-size='100' font-family="'Liberation Serif', serif"  fill='#000' stroke='#000' stroke-width='1' stroke-linejoin='round' vector-effect='non-scaling-stroke'>)</text>
<text transform='matrix(0.77 0 0 0.851 1012.814 4735.359)' font-size='100' font-family="'Liberation Serif', serif"  fill='#000' stroke='#000' stroke-width='1' stroke-linejoin='round' vector-effect='non-scaling-stroke'>(</text>
<text transform='matrix(0.813 0 0 0.865 1040.537 4736.035)' font-size='100' font-family="'Liberation Serif', serif" font-weight='bold' fill='#000' stroke='#000' stroke-width='0.6' stroke-linejoin='round' vector-effect='non-scaling-stroke'>c</text>
<text transform='matrix(0.76 0 0 0.851 1077.369 4735.359)' font-size='100' font-family="'Liberation Serif', serif"  fill='#000' stroke='#000' stroke-width='1' stroke-linejoin='round' vector-effect='non-scaling-stroke'>)</text>
</g>
</svg>
</body>
</html>
